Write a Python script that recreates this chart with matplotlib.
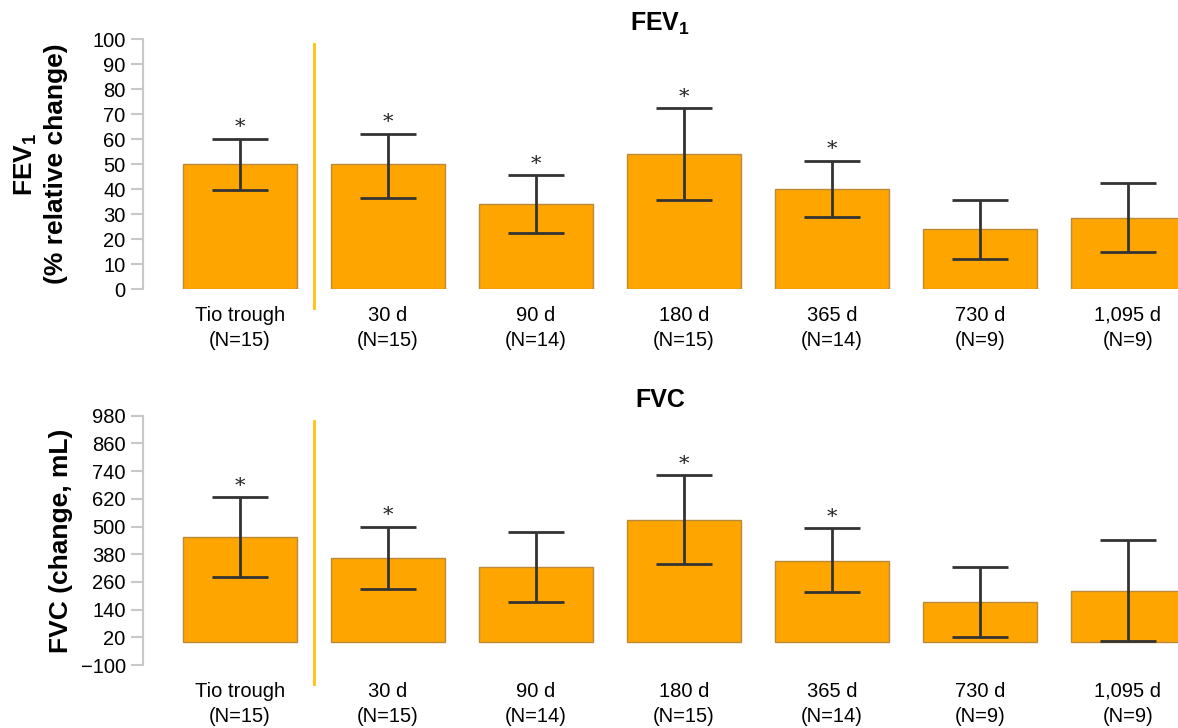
import matplotlib
matplotlib.use("Agg")
import matplotlib.pyplot as plt
import matplotlib.transforms as mtransforms

plt.rcParams['font.family'] = ['Liberation Sans', 'DejaVu Sans']
plt.rcParams['mathtext.fontset'] = 'custom'
plt.rcParams['mathtext.rm'] = 'Liberation Sans'
plt.rcParams['mathtext.bf'] = 'Liberation Sans:bold'

# data
labels = ['Tio trough\n(N=15)', '30 d\n(N=15)', '90 d\n(N=14)', '180 d\n(N=15)',
          '365 d\n(N=14)', '730 d\n(N=9)', '1,095 d\n(N=9)']

fev_mean = [50, 50, 34, 54, 40, 24, 28.5]
fev_low = [39.5, 36.5, 22.3, 35.6, 28.8, 12.1, 15]
fev_high = [60.2, 62.2, 45.6, 72.4, 51.4, 35.6, 42.4]
fev_star = [True, True, True, True, True, False, False]

fvc_mean = [453, 362, 323, 528, 352, 174, 222]
fvc_low = [282, 230, 172, 336, 215, 23, 3]
fvc_high = [626, 499, 475, 723, 493, 326, 441]
fvc_star = [True, True, False, True, True, False, False]

fev_ticks = list(range(0, 101, 10))
fvc_ticks = list(range(-100, 981, 120))

BAR = '#FFA500'
EDGE = '#b88a3a'
SPINE = '#c8c8c8'
DIV = '#FFC20E'


def panel(ax, mean, low, high, star, ticks, title, ylabel, ylab_x):
    x = list(range(len(mean)))
    yerr = [[m - l for m, l in zip(mean, low)], [h - m for m, h in zip(mean, high)]]
    ax.bar(x, mean, width=0.77, color=BAR, edgecolor=EDGE, linewidth=1.0, zorder=2)
    ax.errorbar(x, mean, yerr=yerr, fmt='none', ecolor='#333333', elinewidth=2.0,
                capsize=20, capthick=2.0, zorder=3)
    for xi, h, s in zip(x, high, star):
        if s:
            ax.annotate('*', (xi, h), xytext=(0, 1), textcoords='offset points',
                        ha='center', va='bottom', fontsize=15, family='DejaVu Serif',
                        color='#222222')
    ax.set_xlim(-0.655, 6.338)
    ax.set_ylim(ticks[0], ticks[-1])
    ax.set_yticks(ticks)
    ax.set_xticks(x)
    ax.set_xticklabels(labels, fontsize=14.5, linespacing=1.4)
    ax.tick_params(axis='x', length=0, pad=12)
    ax.tick_params(axis='y', length=8.5, width=1.5, color=SPINE, labelsize=14.5, pad=4)
    for side in ['top', 'right', 'bottom']:
        ax.spines[side].set_visible(False)
    ax.spines['left'].set_color(SPINE)
    ax.spines['left'].set_linewidth(1.5)
    ax.set_title(title, fontsize=18, fontweight='bold', pad=6)
    ax.set_ylabel(ylabel, fontsize=19, fontweight='bold', linespacing=1.3)
    ax.yaxis.set_label_coords(ylab_x, 0.5)
    # divider between the trough bar and the timed bars
    trans = mtransforms.blended_transform_factory(ax.transData, ax.transAxes)
    ax.plot([0.5, 0.5], [0.98, -0.075], color=DIV, lw=2, transform=trans, clip_on=False)


fig = plt.figure(figsize=(11.78, 7.28), dpi=100)
ax1 = fig.add_axes([0.1214, 0.603, 0.8786, 0.3434])
ax2 = fig.add_axes([0.1214, 0.0865, 0.8786, 0.3425])

panel(ax1, fev_mean, fev_low, fev_high, fev_star, fev_ticks,
      r'FEV$_\mathbf{1}$', 'FEV$_\\mathbf{1}$\n(% relative change)', -0.072)
panel(ax2, fvc_mean, fvc_low, fvc_high, fvc_star, fvc_ticks,
      'FVC', 'FVC (change, mL)', -0.068)

fig.savefig('out.png', dpi=100)
